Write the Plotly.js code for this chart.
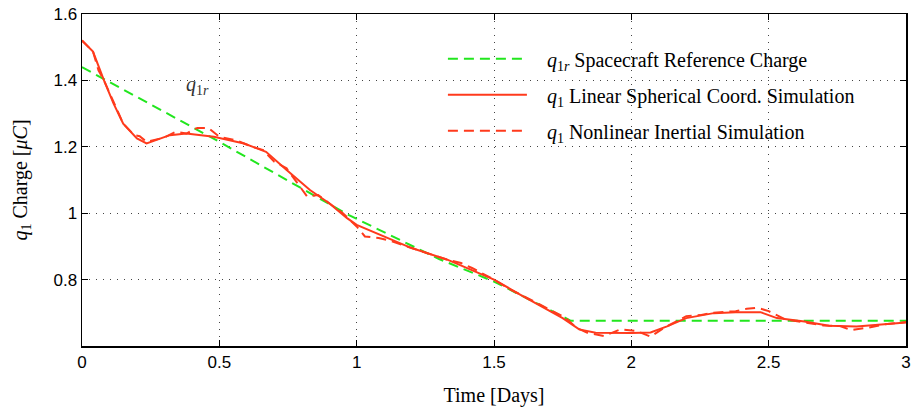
<!DOCTYPE html>
<html>
<head>
<meta charset="utf-8">
<script src="https://cdn.plot.ly/plotly-3.0.1.min.js"></script>
<style>html,body{margin:0;padding:0;background:#fff;}#chart{width:915px;height:410px;}</style>
</head>
<body>
<div id="chart"></div>
<script>
// Reference charge q1r
const timeRef = [0, 0.3, 0.5, 0.97, 1.3, 1.5, 1.73, 1.78, 3.0];
const q1Ref = [1.44, 1.305, 1.215, 0.995, 0.862, 0.794, 0.699, 0.676, 0.676];

// Linear spherical coordinate simulation
const timeLin = [0, 0.04, 0.08, 0.115, 0.15, 0.2, 0.235, 0.32, 0.38, 0.48, 0.59, 0.67, 0.745, 0.83, 0.9, 0.965, 1.0, 1.085, 1.2, 1.33, 1.5, 1.595, 1.75, 1.81, 1.87, 2.0, 2.07, 2.13, 2.2, 2.3, 2.38, 2.47, 2.53, 2.63, 2.72, 2.82, 2.9, 3.0];
const q1Lin = [1.52, 1.487, 1.40, 1.33, 1.27, 1.225, 1.21, 1.235, 1.24, 1.23, 1.21, 1.185, 1.13, 1.07, 1.03, 0.985, 0.965, 0.935, 0.895, 0.86, 0.80, 0.755, 0.684, 0.65, 0.64, 0.639, 0.641, 0.659, 0.684, 0.699, 0.702, 0.702, 0.684, 0.674, 0.661, 0.659, 0.664, 0.671];

// Nonlinear inertial simulation
const timeNl = [0, 0.04, 0.06, 0.08, 0.115, 0.15, 0.19, 0.21, 0.235, 0.3, 0.34, 0.38, 0.42, 0.46, 0.5, 0.56, 0.62, 0.66, 0.7, 0.745, 0.82, 0.86, 0.9, 0.95, 1.0, 1.03, 1.08, 1.12, 1.2, 1.27, 1.33, 1.38, 1.42, 1.5, 1.56, 1.62, 1.7, 1.76, 1.8, 1.84, 1.9, 1.96, 2.02, 2.07, 2.12, 2.2, 2.25, 2.3, 2.38, 2.42, 2.46, 2.5, 2.56, 2.63, 2.7, 2.76, 2.8, 2.86, 2.92, 3.0];
const q1Nl = [1.52, 1.487, 1.43, 1.40, 1.335, 1.27, 1.235, 1.232, 1.215, 1.228, 1.245, 1.24, 1.257, 1.257, 1.23, 1.22, 1.2, 1.19, 1.155, 1.135, 1.05, 1.055, 1.03, 1.0, 0.96, 0.93, 0.925, 0.918, 0.895, 0.875, 0.86, 0.85, 0.835, 0.80, 0.77, 0.745, 0.71, 0.685, 0.655, 0.64, 0.63, 0.65, 0.645, 0.628, 0.655, 0.69, 0.693, 0.70, 0.705, 0.712, 0.715, 0.705, 0.68, 0.672, 0.662, 0.66, 0.648, 0.655, 0.665, 0.672];

const xTicks = [0, 0.5, 1, 1.5, 2, 2.5, 3];
const xTickText = ['0', '0.5', '1', '1.5', '2', '2.5', '3'];
const yTicks = [0.8, 1, 1.2, 1.4, 1.6];
const yTickText = ['0.8', '1', '1.2', '1.4', '1.6'];

const names = [
  '&nbsp;&nbsp;&nbsp;<i>q</i><sub>1<i>r</i></sub> Spacecraft Reference Charge',
  '&nbsp;&nbsp;&nbsp;<i>q</i><sub>1</sub> Linear Spherical Coord. Simulation',
  '&nbsp;&nbsp;&nbsp;<i>q</i><sub>1</sub> Nonlinear Inertial Simulation'
];

const green = '#22e61e';
const red = '#ff3a1c';
const serif = 'Liberation Serif, DejaVu Serif, serif';
const sans = 'Liberation Sans, Arial, sans-serif';

const traces = [
  {x: timeRef, y: q1Ref, mode: 'lines', name: names[0], legendgroup: 'a',
   line: {color: green, width: 2, dash: '10px,6px'}},
  {x: timeLin, y: q1Lin, mode: 'lines', name: names[1], legendgroup: 'b',
   line: {color: red, width: 2}},
  {x: timeNl, y: q1Nl, mode: 'lines', name: names[2], legendgroup: 'c',
   line: {color: red, width: 2, dash: '10px,6px'}}
];

const axisCommon = {
  showline: true, mirror: 'allticks', linecolor: '#000', linewidth: 1.5,
  ticks: 'inside', ticklen: 6, tickcolor: '#000', tickwidth: 1,
  showgrid: true, gridcolor: '#444', griddash: '1px,6px', gridwidth: 1,
  zeroline: false, tickfont: {family: sans, size: 17, color: '#000'}
};

const layout = {
  width: 915, height: 410,
  margin: {l: 82, r: 9, t: 14, b: 64},
  paper_bgcolor: '#fff', plot_bgcolor: '#fff',
  showlegend: true,
  legend: {x: 0.438, y: 0.924, xanchor: 'left', yanchor: 'top', bgcolor: 'rgba(0,0,0,0)',
           borderwidth: 0, tracegroupgap: 7, itemwidth: 79,
           font: {family: serif, size: 20, color: '#000'}},
  xaxis: Object.assign({}, axisCommon, {
    range: [0, 3], tickvals: xTicks, ticktext: xTickText,
    title: {text: 'Time [Days]', font: {family: serif, size: 20, color: '#000'}, standoff: 17}
  }),
  yaxis: Object.assign({}, axisCommon, {
    range: [0.6, 1.6], tickvals: yTicks, ticktext: yTickText,
    title: {text: '<i>q</i><sub>1</sub> Charge [<i>μC</i>]', font: {family: serif, size: 20, color: '#000'}, standoff: 20}
  }),
  annotations: [{
    x: 0.419, y: 1.386, xref: 'x', yref: 'y', showarrow: false,
    text: '<i>q</i><sub>1<i>r</i></sub>', font: {family: serif, size: 20, color: '#333'}
  }]
};

Plotly.newPlot('chart', traces, layout, {staticPlot: true, displayModeBar: false});
</script>
</body>
</html>
